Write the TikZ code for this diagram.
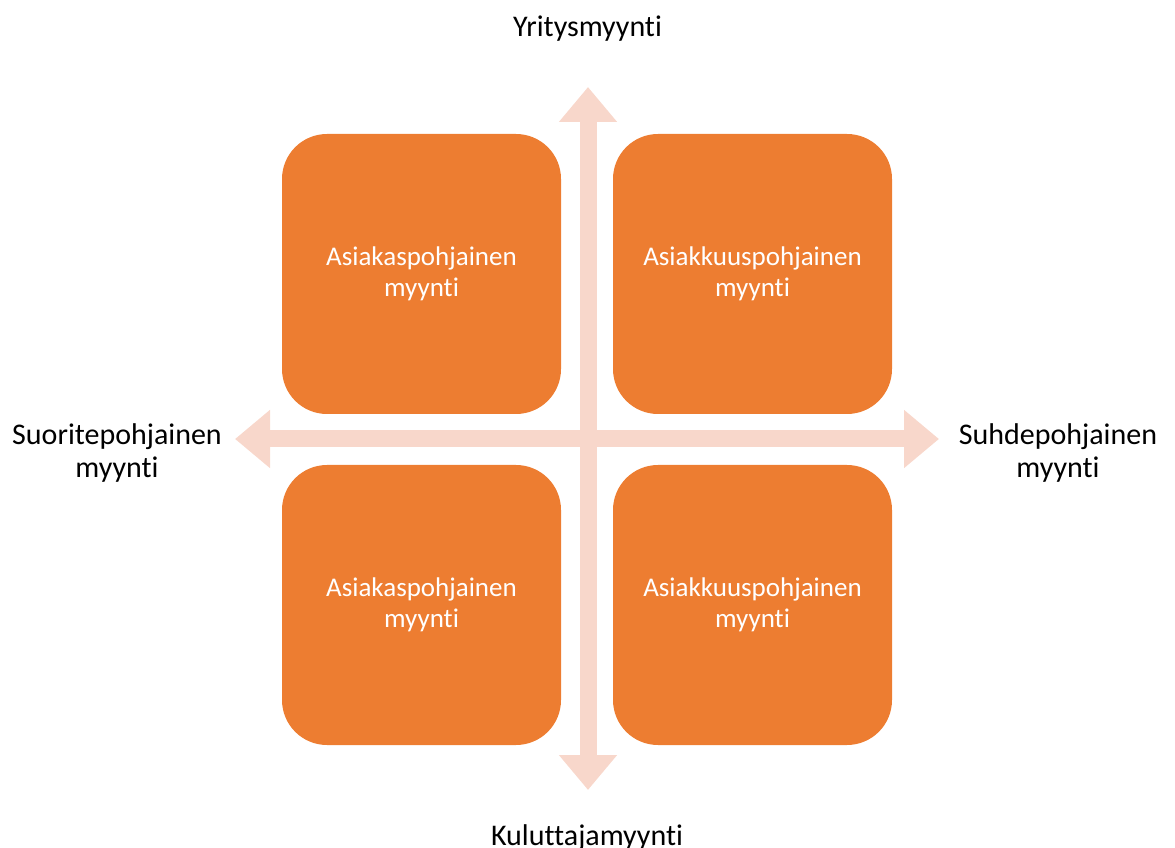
\documentclass[tikz,border=0pt]{standalone}
\usepackage{fontspec}
\setmainfont{Carlito}[Ligatures={NoCommon,NoRare,NoContextual}]
\usetikzlibrary{arrows.meta}
\definecolor{boxorange}{HTML}{ED7D31}
\definecolor{axispeach}{HTML}{F8D7CB}
% keep "t" and "i" as separate glyphs
\newcommand\tsep{t\kern0pt i}
\begin{document}
\begin{tikzpicture}[x=0.75pt,y=-0.75pt,
  quad/.style={fill=boxorange, rounded corners=33.75pt,
    minimum width=209.25pt, minimum height=210pt, inner sep=0pt,
    text=white, align=center, font=\fontsize{20.25}{23.25}\selectfont},
  axislabel/.style={align=center, inner sep=0pt, anchor=base,
    font=\fontsize{22.5}{24.75}\selectfont},
  axisarrow/.style={draw=axispeach, line width=12.75pt,
    {Triangle[width=42pt,length=26.25pt]}-{Triangle[width=42pt,length=26.25pt]}}]
\useasboundingbox (0,0) rectangle (1175,848);

% axis ends
\coordinate (top) at (588,87);
\coordinate (bottom) at (588,790);
\coordinate (left) at (235,439);
\coordinate (right) at (939,439);

\draw[axisarrow] (bottom) -- (top);
\draw[axisarrow] (left) -- (right);

% quadrants
\node[quad] (tl) at (421.5,274) {Asiakaspohjainen\\myyn\tsep};
\node[quad] (tr) at (752.5,274) {Asiakkuuspohjainen\\myyn\tsep};
\node[quad] (bl) at (421.5,605) {Asiakaspohjainen\\myyn\tsep};
\node[quad] (br) at (752.5,605) {Asiakkuuspohjainen\\myyn\tsep};

% axis labels (base anchor sits on the last line)
\node[axislabel] (ylab) at (587.5,37) {Yritysmyyn\tsep};
\node[axislabel] (klab) at (587,845) {Kuluttajamyyn\tsep};
\node[axislabel] (slab) at (117,478) {Suoritepohjainen\\myyn\tsep};
\node[axislabel] (hlab) at (1058,478) {Suhdepohjainen\\myyn\tsep};
\end{tikzpicture}
\end{document}
